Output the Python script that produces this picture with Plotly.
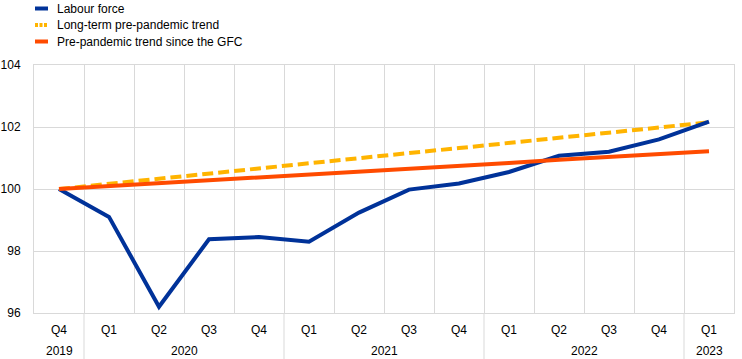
import plotly.graph_objects as go

years = ["2019", "2020", "2021", "2022", "2023"]
year_quarter_counts = [1, 4, 4, 4, 1]
quarters = ["Q4", "Q1", "Q2", "Q3", "Q4", "Q1", "Q2", "Q3", "Q4",
            "Q1", "Q2", "Q3", "Q4", "Q1"]

labour_force = [100.0, 99.1, 96.2, 98.38, 98.45, 98.3, 99.24, 99.98, 100.18,
                100.55, 101.07, 101.2, 101.6, 102.17]
long_term_trend = [100.0, 100.17, 100.33, 100.5, 100.66, 100.83, 100.99, 101.16,
                   101.32, 101.49, 101.65, 101.82, 101.98, 102.15]
gfc_trend = [100.0, 100.09, 100.19, 100.28, 100.37, 100.47, 100.56, 100.66,
             100.75, 100.84, 100.94, 101.03, 101.12, 101.22]

series_names = ["Labour force", "Long-term pre-pandemic trend", "Pre-pandemic trend since the GFC"]
colors = ["#003299", "#FFB400", "#FF4B00"]

x = list(range(len(quarters)))
fig = go.Figure()
fig.add_trace(go.Scatter(x=x, y=long_term_trend, mode="lines", name=series_names[1],
                         line=dict(color=colors[1], width=4, dash="11px,5px")))
fig.add_trace(go.Scatter(x=x, y=labour_force, mode="lines", name=series_names[0],
                         line=dict(color=colors[0], width=4)))
fig.add_trace(go.Scatter(x=x, y=gfc_trend, mode="lines", name=series_names[2],
                         line=dict(color=colors[2], width=4)))

L, R, T, B = 34, 8, 65, 46
W, H = 742, 359
pw, ph = W - L - R, H - T - B
GRID = "#d9d9d9"
FONT = "Arial, Liberation Sans"
CLEAR = "rgba(0,0,0,0)"

def px_x(p):
    return (p - L) / pw

def px_y(p):
    return (H - B - p) / ph

shapes = []
annotations = []
legend_y = [8.5, 25, 41.5]
for i, (name, col) in enumerate(zip(series_names, colors)):
    yy = px_y(legend_y[i])
    shapes.append(dict(type="line", xref="paper", yref="paper",
                       x0=px_x(35), x1=px_x(48), y0=yy, y1=yy,
                       line=dict(color=col, width=4,
                                 dash="3px,1.5px" if i == 1 else "solid")))
    annotations.append(dict(xref="paper", yref="paper", x=px_x(55), y=yy,
                            text=name, showarrow=False, xanchor="left", yanchor="middle",
                            font=dict(family=FONT, size=12, color="#000")))

# year labels and year dividers
start = 0
for yr, n in zip(years, year_quarter_counts):
    centre = start + (n - 1) / 2
    annotations.append(dict(xref="x", yref="paper", x=centre, y=px_y(351),
                            text=yr, showarrow=False, xanchor="center", yanchor="middle",
                            font=dict(family=FONT, size=12, color="#000")))
    if start > 0:
        shapes.append(dict(type="line", xref="x", yref="paper",
                           x0=start - 0.5, x1=start - 0.5, y0=0, y1=px_y(359),
                           line=dict(color=GRID, width=1)))
    start += n

fig.update_layout(
    width=W, height=H,
    margin=dict(l=L, r=R, t=T, b=B, autoexpand=False),
    paper_bgcolor="white", plot_bgcolor="white",
    showlegend=False,
    shapes=shapes, annotations=annotations,
    font=dict(family=FONT, size=12, color="#000"),
)
fig.update_xaxes(
    range=[-0.5, len(quarters) - 0.5], tickmode="array", tickvals=x, ticktext=quarters,
    ticks="outside", ticklen=6, tickcolor=CLEAR, showgrid=False, zeroline=False,
    showline=True, linecolor=GRID, mirror=True, automargin=False,
    minor=dict(tickmode="linear", tick0=0.5, dtick=1, showgrid=True, gridcolor=GRID,
               ticks=""),
    tickfont=dict(size=12, color="#000", family=FONT),
)
fig.update_yaxes(
    range=[96, 104], dtick=2, showgrid=True, gridcolor=GRID, gridwidth=1,
    zeroline=False, showline=True, linecolor=GRID, mirror=True, automargin=False,
    ticks="outside", ticklen=10, tickcolor=CLEAR,
    tickfont=dict(size=12, color="#000", family=FONT),
)

fig.write_html("out.html", config={"displayModeBar": False},
               post_script="document.body.style.margin='0px';")
